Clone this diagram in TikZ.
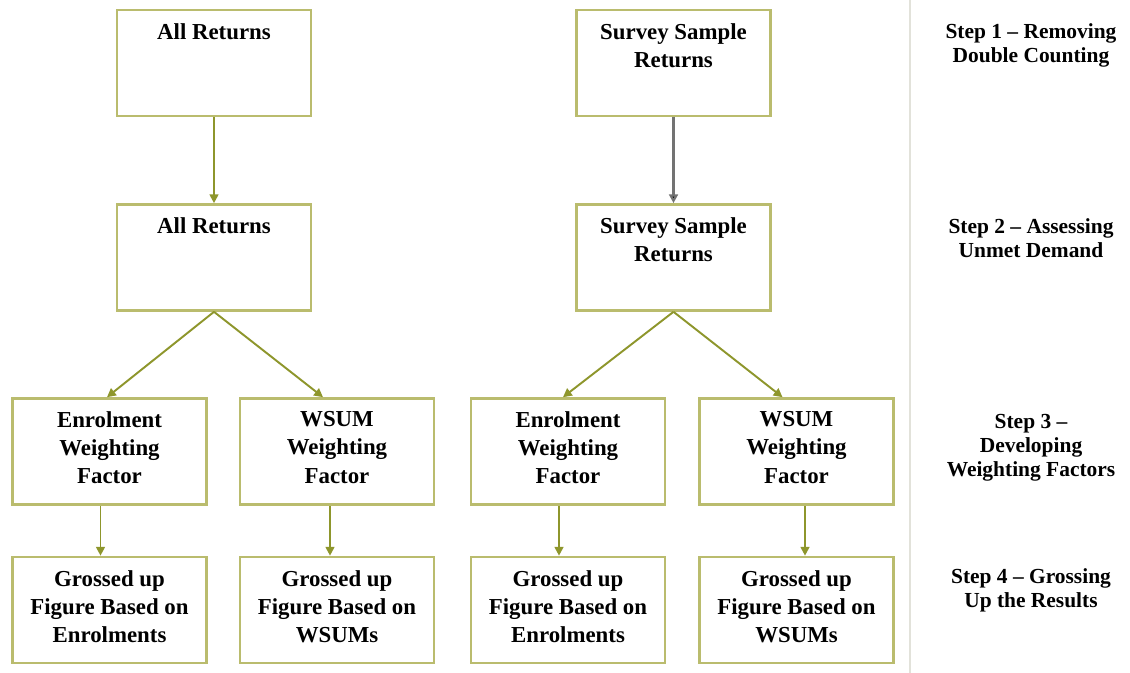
\documentclass[tikz,border=0pt]{standalone}
\usepackage{fontspec}
\setmainfont{Liberation Serif}
\usetikzlibrary{arrows.meta}

\definecolor{boxolive}{RGB}{186,188,110}
\definecolor{arrowolive}{RGB}{142,150,44}
\definecolor{sepgray}{RGB}{226,226,218}

\newcommand{\boxtext}[1]{\parbox[t][2.12cm][t]{3.7cm}{\centering\vspace*{7.5pt}#1}}

\begin{document}
\begin{tikzpicture}[
    font=\fontsize{13}{16}\selectfont\bfseries,
    flowbox/.style={draw=boxolive,line width=1.5pt,inner sep=0pt,
                    minimum width=3.88cm,minimum height=2.12cm},
    steplabel/.style={align=center,font=\fontsize{12.2}{13.6}\selectfont\bfseries},
    flow/.style={draw=arrowolive,line width=1.1pt,-{Triangle[length=5pt,width=5pt]}},
    flowgray/.style={draw=black!55,line width=1.3pt,-{Triangle[length=5pt,width=5pt,fill=black]}}]
    \useasboundingbox (0,0) rectangle (22.6,-13.46);

    % Trennlinie
    \draw[sepgray,line width=1pt] (18.2,0) -- (18.2,-13.46);

    % Stufe 1 und 2
    \node[flowbox] (allret1) at (4.28,-1.26) {\boxtext{All Returns}};
    \node[flowbox] (survret1) at (13.47,-1.26) {\boxtext{Survey Sample\\Returns}};
    \node[flowbox] (allret2) at (4.28,-5.15) {\boxtext{All Returns}};
    \node[flowbox] (survret2) at (13.47,-5.15) {\boxtext{Survey Sample\\Returns}};

    % Stufe 3
    \node[flowbox] (enrolw1) at (2.19,-9.03) {\boxtext{Enrolment\\Weighting\\Factor}};
    \node[flowbox] (wsumw1) at (6.74,-9.03) {\boxtext{WSUM\\Weighting\\Factor}};
    \node[flowbox] (enrolw2) at (11.36,-9.03) {\boxtext{Enrolment\\Weighting\\Factor}};
    \node[flowbox] (wsumw2) at (15.93,-9.03) {\boxtext{WSUM\\Weighting\\Factor}};

    % Stufe 4
    \node[flowbox] (enrolg1) at (2.19,-12.2) {\boxtext{Grossed up\\Figure Based on\\Enrolments}};
    \node[flowbox] (wsumg1) at (6.74,-12.2) {\boxtext{Grossed up\\Figure Based on\\WSUMs}};
    \node[flowbox] (enrolg2) at (11.36,-12.2) {\boxtext{Grossed up\\Figure Based on\\Enrolments}};
    \node[flowbox] (wsumg2) at (15.93,-12.2) {\boxtext{Grossed up\\Figure Based on\\WSUMs}};

    % Pfeile
    \draw[flow] (allret1) -- (allret2);
    \draw[flowgray] (survret1) -- (survret2);
    \draw[flow] (allret2.south) -- ([xshift=-0.05cm]enrolw1.north);
    \draw[flow] (allret2.south) -- ([xshift=-0.28cm]wsumw1.north);
    \draw[flow] (survret2.south) -- ([xshift=-0.1cm]enrolw2.north);
    \draw[flow] (survret2.south) -- ([xshift=-0.28cm]wsumw2.north);
    \draw[flow] ([xshift=-0.18cm]enrolw1.south) -- ([xshift=-0.18cm]enrolg1.north);
    \draw[flow] ([xshift=-0.14cm]wsumw1.south) -- ([xshift=-0.14cm]wsumg1.north);
    \draw[flow] ([xshift=-0.18cm]enrolw2.south) -- ([xshift=-0.18cm]enrolg2.north);
    \draw[flow] ([xshift=0.17cm]wsumw2.south) -- ([xshift=0.17cm]wsumg2.north);

    % Schritte
    \node[steplabel] (step1) at (20.62,-0.9) {Step 1 -- Removing\\Double Counting};
    \node[steplabel] (step2) at (20.62,-4.76) {Step 2 -- Assessing\\Unmet Demand};
    \node[steplabel] (step3) at (20.62,-8.96) {Step 3 --\\Developing\\Weighting Factors};
    \node[steplabel] (step4) at (20.62,-11.8) {Step 4 -- Grossing\\Up the Results};
\end{tikzpicture}
\end{document}
